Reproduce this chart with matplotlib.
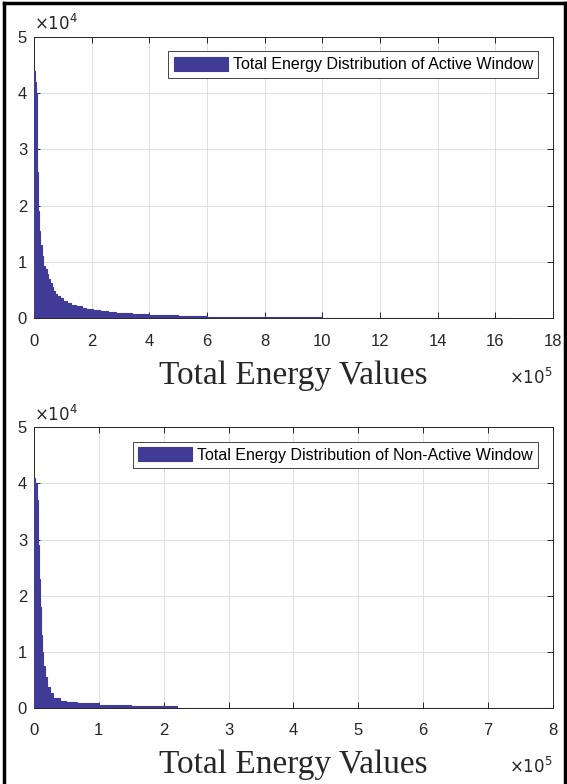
import matplotlib.pyplot as plt
from matplotlib.lines import Line2D
from matplotlib.ticker import FuncFormatter, MultipleLocator

# histogram of total energy, active window (bin edges and counts)
active_edges = [0, 3e3, 6e3, 9e3, 1.2e4, 1.5e4, 1.8e4, 2.2e4, 2.6e4, 3.2e4,
                3.8e4, 4.4e4, 5.0e4, 5.5e4, 6.1e4, 6.7e4, 7.3e4, 7.8e4, 9.0e4, 1.0e5,
                1.13e5, 1.3e5, 1.47e5, 1.65e5, 1.82e5, 2.05e5, 2.28e5, 2.55e5, 2.85e5, 3.4e5,
                4.0e5, 5.0e5, 6.0e5, 7.0e5, 8.5e5, 1.0e6, 1.3e6, 1.66e6]
active_counts = [44000, 42000, 40000, 36000, 26000, 19000, 15500, 13000, 11000, 9300,
                 8700, 7800, 7000, 6200, 5500, 4900, 4400, 4000, 3600, 3100,
                 2700, 2300, 2100, 1900, 1700, 1500, 1300, 1100, 900, 750,
                 550, 400, 300, 250, 220, 100, 80]

# non-active window
nonactive_edges = [0, 1.5e3, 5e3, 6.7e3, 8.2e3, 9.2e3, 1.08e4, 1.28e4, 1.44e4, 1.7e4,
                   1.95e4, 2.46e4, 2.97e4, 4e4, 5e4, 6.6e4, 1e5, 1.5e5, 2.2e5, 8e5]
nonactive_counts = [41000, 40000, 37000, 29000, 23000, 18000, 13000, 10000, 7500, 5500,
                    3700, 2600, 1800, 1300, 1000, 800, 500, 350, 60]

labels = ['Total Energy Distribution of Active Window',
          'Total Energy Distribution of Non-Active Window']
xmax = [18e5, 8e5]
xstep = [2e5, 1e5]

bar_color = '#3f3b96'
axis_color = '#262626'
sans = 'Liberation Sans'

fig = plt.figure(figsize=(5.67, 7.84), dpi=100)
ax1 = fig.add_axes([0.060, 0.594, 0.915, 0.359])
ax2 = fig.add_axes([0.060, 0.097, 0.915, 0.358])

data = [(active_edges, active_counts), (nonactive_edges, nonactive_counts)]
for ax, (edges, counts), lab, xm, xs in zip([ax1, ax2], data, labels, xmax, xstep):
    ax.stairs(counts, edges, fill=True, facecolor=bar_color, edgecolor=bar_color,
              linewidth=0.8, zorder=3, label=lab)
    ax.set_xlim(0, xm)
    ax.set_ylim(0, 5e4)
    ax.xaxis.set_major_locator(MultipleLocator(xs))
    ax.yaxis.set_major_locator(MultipleLocator(1e4))
    ax.xaxis.set_major_formatter(FuncFormatter(lambda v, p: f'{v / 1e5:g}'))
    ax.yaxis.set_major_formatter(FuncFormatter(lambda v, p: f'{v / 1e4:g}'))
    ax.grid(True, color='#dedede', linewidth=0.7)
    ax.set_axisbelow(True)
    ax.tick_params(direction='in', top=True, right=True, length=4, width=0.7,
                   colors=axis_color, labelsize=12)
    ax.tick_params(axis='x', pad=11)
    ax.tick_params(axis='y', pad=5)
    for lbl in ax.get_xticklabels() + ax.get_yticklabels():
        lbl.set_fontfamily(sans)
    for sp in ax.spines.values():
        sp.set_color(axis_color)
        sp.set_linewidth(0.7)
    ax.set_xlabel('Total Energy Values', fontsize=24, family='Liberation Serif',
                  color=axis_color)
    ax.xaxis.set_label_coords(0.5, -0.232)
    ax.xaxis.label.set_va('baseline')
    ax.text(1.0, -0.232, r'$\times10^{5}$', transform=ax.transAxes, ha='right',
            va='baseline', fontsize=12, family=sans, color=axis_color)
    ax.text(0.0, 1.012, r'$\times10^{4}$', transform=ax.transAxes, ha='left',
            va='bottom', fontsize=12, family=sans, color=axis_color)
    leg = ax.legend(loc='upper right', prop={'family': sans, 'size': 11.5},
                    fancybox=False, framealpha=1, edgecolor=axis_color,
                    handlelength=3.4, handleheight=0.95, borderaxespad=0.9,
                    borderpad=0.35, handletextpad=0.3)
    leg.get_frame().set_linewidth(0.6)

# outer frame (left, top, right)
for xs_, ys_ in [([0.007, 0.007], [0, 0.996]), ([0.007, 0.996], [0.996, 0.996]),
                 ([0.996, 0.996], [0, 0.996])]:
    fig.add_artist(Line2D(xs_, ys_, color='black', linewidth=2.5, transform=fig.transFigure))

fig.savefig('out.png', dpi=100)
